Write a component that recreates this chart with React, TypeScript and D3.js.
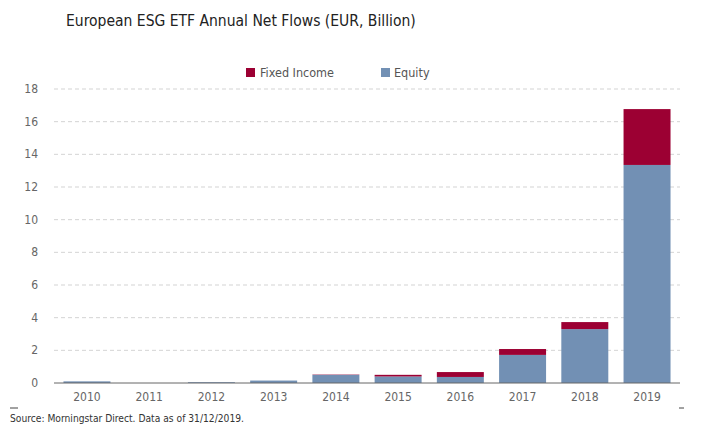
import * as d3 from 'd3';

const years = ['2010', '2011', '2012', '2013', '2014', '2015', '2016', '2017', '2018', '2019'];
const equity = [0.1, 0.0, 0.05, 0.15, 0.5, 0.4, 0.37, 1.72, 3.3, 13.35];
const fixedIncome = [0.0, 0.0, 0.0, 0.0, 0.02, 0.1, 0.3, 0.36, 0.43, 3.42];
const yTicks = [0, 2, 4, 6, 8, 10, 12, 14, 16, 18];

const FONT = "'Liberation Sans Narrow', 'DejaVu Sans Condensed', 'Roboto', sans-serif";
const EQ_COLOR = '#7290b4';
const FI_COLOR = '#9c0033';

export default function App() {
    const W = 704, H = 434;
    const left = 54, right = 680, top = 89, bottom = 383;

    const x = d3.scaleBand().domain(years).range([56, 678]).paddingInner(0.245).paddingOuter(0.12);
    const y = d3.scaleLinear().domain([0, 18]).range([bottom, top]);

    const rows = years.map((yr, i) => ({ year: yr, equity: equity[i], fixed: fixedIncome[i] }));
    const stack = d3.stack<{ year: string; equity: number; fixed: number }>().keys(['equity', 'fixed'])(rows);
    const colors = [EQ_COLOR, FI_COLOR];

    return (
        <svg width={W} height={H} style={{ position: 'absolute', left: 0, top: 0 }} fontFamily={FONT}>
            <rect width={W} height={H} fill="#fff" />
            <text x={66} y={26} fontSize={15.5} fill="#222">
                European ESG ETF Annual Net Flows (EUR, Billion)
            </text>

            {/* legend */}
            <rect x={246} y={68} width={9} height={9} fill={FI_COLOR} />
            <text x={260} y={77} fontSize={12.5} fill="#555">Fixed Income</text>
            <rect x={381} y={68} width={9} height={9} fill={EQ_COLOR} />
            <text x={394} y={77} fontSize={12.5} fill="#555">Equity</text>

            {/* grid + y labels */}
            {yTicks.map(t => (
                <g key={t}>
                    {t > 0 && (
                        <line x1={left} x2={right} y1={y(t)} y2={y(t)} stroke="#c8c8c8" strokeWidth={0.8} strokeDasharray="4,3" />
                    )}
                    <text x={38} y={y(t) + 4} fontSize={12} fill="#666" textAnchor="end">{t}</text>
                </g>
            ))}

            {/* bars */}
            {stack.map((layer, li) => (
                <g key={layer.key} fill={colors[li]}>
                    {layer.map((d, i) => (
                        <rect
                            key={years[i]}
                            x={x(years[i])}
                            width={x.bandwidth()}
                            y={y(d[1])}
                            height={Math.max(0, y(d[0]) - y(d[1]))}
                        />
                    ))}
                </g>
            ))}

            {/* zero axis */}
            <line x1={left} x2={right} y1={bottom} y2={bottom} stroke="#666" strokeWidth={1} />

            {/* x labels */}
            {years.map(yr => (
                <text key={yr} x={(x(yr) ?? 0) + x.bandwidth() / 2} y={401} fontSize={12} fill="#666" textAnchor="middle">
                    {yr}
                </text>
            ))}

            <line x1={10} x2={18} y1={408} y2={408} stroke="#444" strokeWidth={1} />
            <line x1={679} x2={684} y1={408} y2={408} stroke="#444" strokeWidth={1} />

            <text x={10} y={422} fontSize={10.2} fill="#333">
                Source: Morningstar Direct. Data as of 31/12/2019.
            </text>
        </svg>
    );
}
